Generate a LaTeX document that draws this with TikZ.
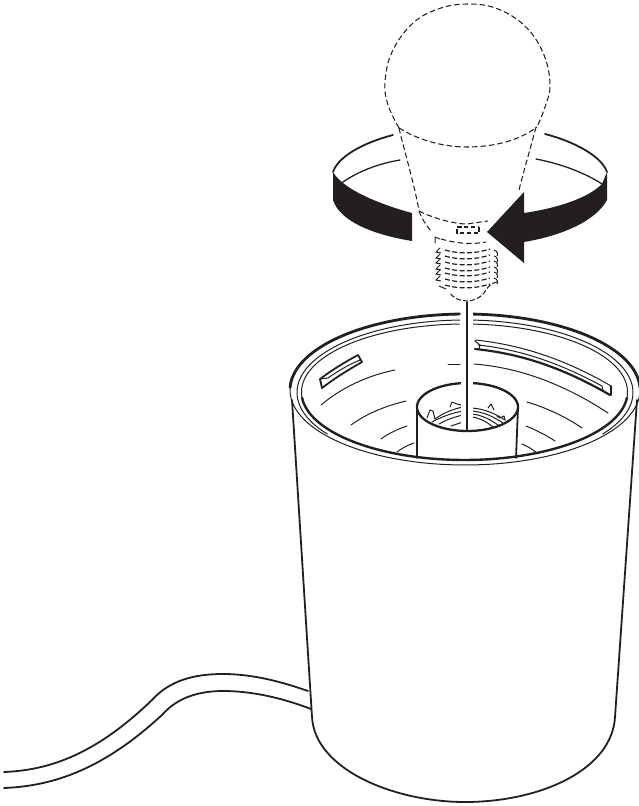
\documentclass[tikz,border=0pt]{standalone}
\definecolor{ink}{HTML}{231F20}
\tikzset{
  thin line/.style={draw=ink,line width=1pt,line cap=round},
  mid line/.style={draw=ink,line width=1.8pt,line cap=round},
  thick line/.style={draw=ink,line width=2.8pt,line cap=round},
  bulb line/.style={draw=ink,line width=1.05pt,dash pattern=on 5.5pt off 3pt},
  thread line/.style={draw=ink,line width=1.2pt,dash pattern=on 5pt off 2.4pt},
  mark line/.style={draw=ink,line width=1pt,line cap=butt},
  crv/.style={smooth,tension=0.6}
}
\begin{document}
\begin{tikzpicture}[x=1pt,y=-1pt]
\useasboundingbox (0,0) rectangle (639,806);
% cord
\draw[mid line] (4,772) .. controls (55,770) and (100,750) .. (152,700) .. controls (170,680) and (195,674) .. (223,674) .. controls (255,674) and (285,683) .. (308,691);
\draw[mid line] (4,788) .. controls (55,786) and (105,768) .. (163,714) .. controls (178,697) and (200,691) .. (223,691) .. controls (258,691) and (290,701) .. (311,709);
% cup body
\draw[mid line] (292,400) -- (312,717) .. controls (315,770) and (395,802) .. (465,802) .. controls (540,802) and (612,770) .. (615,717) -- (637,400);
% rim
\draw[thick line] plot[domain=2:87.5,samples=60] ({465+175*cos(\x)},{390-76*sin(\x)});
\draw[thick line] plot[domain=91.8:178,samples=60] ({465+175*cos(\x)},{390-76*sin(\x)});
\draw[thin line] plot[domain=178:362,samples=80] ({465+175*cos(\x)},{390-75*sin(\x)});
\draw[thin line] plot[domain=-35:87.5,samples=60] ({465+168*cos(\x)},{392.5-72.5*sin(\x)});
\draw[thin line] plot[domain=91.8:215,samples=60] ({465+168*cos(\x)},{392.5-72.5*sin(\x)});
\draw[thin line] plot[domain=-5:87.5,samples=60] ({464.5+163*cos(\x)},{392-68*sin(\x)});
\draw[thin line] plot[domain=91.8:185,samples=60] ({464.5+163*cos(\x)},{392-68*sin(\x)});
\draw[draw=ink,line width=2.4pt,line cap=round] plot[domain=185:355,samples=80] ({464.5+163*cos(\x)},{392-68*sin(\x)});
% left tab
\draw[mid line,line join=round] (322,388) -- (320,379) .. controls (332,370) and (345,362) .. (358,355) -- (362,362);
\draw[mid line] (322,388) .. controls (335,378) and (348,370) .. (362,362);
\draw[thin line] (320,379) -- (328,378) .. controls (338,371) and (348,365) .. (360,360);
% right tab
\draw[thin line] (475,340) .. controls (525,345) and (570,362) .. (611,386);
\draw[thin line] (478,345) .. controls (525,350) and (565,366) .. (602,386);
\draw[draw=ink,line width=2.2pt,line cap=round] (475,349) .. controls (525,354) and (565,370) .. (603,391) -- (610,395);
\draw[thin line] (475,341) -- (480,345) -- (479,349);
\draw[thin line,line join=round] (602,386) -- (603,391);
\draw[mid line,line join=round] (611,386) -- (611,395);
% floor contour lines
\draw[thin line] (321,405) .. controls (340,389) and (365,376) .. (395,370);
\draw[thin line] (351,425) .. controls (366,414) and (385,406) .. (406,401);
\draw[thin line] (381,439) .. controls (389,433) and (398,429) .. (407,426);
\draw[thin line] (397,452) .. controls (402,448) and (408,445) .. (414,443);
\draw[thin line] (448,364) -- (460,364);
\draw[thin line] (474,364) .. controls (525,368) and (570,388) .. (608,413);
\draw[thin line] (527,402) .. controls (547,408) and (566,417) .. (582,428);
\draw[thin line] (526,426) .. controls (536,430) and (546,435) .. (555,441);
\draw[thin line] (522,444) .. controls (527,446) and (532,449) .. (537,453);
% socket
\draw[mid line] (417,408) -- (417,458);
\draw[mid line] (518,408) -- (516,458);
\draw[draw=ink,line width=2.3pt,line cap=round] plot[domain=0:360,samples=100] ({467.5+50.5*cos(\x)},{407-24*sin(\x)});
% inner threads
\draw[thin line] (435,419) .. controls (443,413) and (453,409) .. (463,407);
\draw[thin line] (472,408) .. controls (485,409) and (496,414) .. (505,420);
\draw[thin line] (432,422) .. controls (441,417) and (452,413) .. (463,411);
\draw[thin line] (472,411) .. controls (484,412) and (494,417) .. (503,423);
\draw[thin line] (439,424) .. controls (446,420) and (454,417) .. (463,415);
\draw[thin line] (472,414) .. controls (482,415) and (491,420) .. (498,425);
\draw[thin line] (451,426) -- (463,422);
\draw[thin line] (472,417) .. controls (480,418) and (487,422) .. (493,427);
\draw[thin line,line join=round] (427,418) -- (430,410) -- (433,411) -- (435,419);
\draw[thin line,line join=round] (450,407) -- (452,402) -- (457,404) -- (461,405);
\draw[thin line,line join=round] (488,408) -- (491,404) -- (494,410);
\draw[thin line,line join=round] (497,416) -- (500,418) -- (504,416) -- (505,420);
% halo and stem
\draw[draw=white,line width=12pt,line cap=butt] (467,310) -- (467,428);
\node[inner sep=0pt,minimum size=0pt] (tip) at (467,302) {};
\node[inner sep=0pt,minimum size=0pt] (bot) at (467,430) {};
\draw[draw=ink,line width=1.2pt] (tip) -- (bot);
% rotation band
\fill[ink] (333,172) .. controls (342,188) and (375,203) .. (412,213) -- (412,241) .. controls (375,235) and (340,222) .. (333,200) -- cycle;
\draw[draw=ink,line width=1.8pt,line cap=round] (393,135) .. controls (362,143) and (338,157) .. (333,172);
\draw[draw=ink,line width=1.3pt,line cap=round] (400,160) .. controls (376,164) and (355,173) .. (340,184);
\fill[ink] (607,172) -- (607,200) .. controls (595,222) and (560,236) .. (524,242) -- (524,263) -- (487,232) -- (524,192) -- (524,213) .. controls (558,208) and (588,198) .. (602,184) -- cycle;
\draw[draw=ink,line width=1.8pt,line cap=round] (545,134) .. controls (576,142) and (602,157) .. (607,172);
\draw[draw=ink,line width=1.3pt,line cap=round] (536,159) .. controls (562,164) and (585,173) .. (602,184);
% bulb
\draw[bulb line] plot[smooth,tension=0.65] coordinates {(399,128) (388,105) (385,82) (392,52) (412,24) (438,9) (468,4) (498,9) (526,27) (544,55) (550,85) (545,107) (537,127)};
\draw[bulb line] (399,128) .. controls (420,141) and (445,147) .. (467,147) .. controls (495,147) and (520,140) .. (537,127);
\draw[bulb line] (399,128) .. controls (404,150) and (412,175) .. (419,210);
\draw[bulb line] (536,127) .. controls (530,150) and (524,170) .. (519,190);
\draw[bulb line] (419,211) .. controls (435,219) and (455,224) .. (467,224) -- (488,221);
\draw[bulb line] (419,211) .. controls (422,219) and (426,225) .. (431,231);
\draw[bulb line,dash pattern=on 4.5pt off 2.4pt] (457,227) -- (479,227);
\draw[bulb line,dash pattern=on 4.5pt off 2.4pt] (479,227) -- (479,233) -- (457,233) -- (457,227);
\draw[mark line] (435,243) -- (435,237) -- (440,239);
\draw[bulb line] (441,239) .. controls (455,243) and (470,245) .. (486,242);
% screw threads
\foreach \yy in {249,255,261,267,272,278,284}{
  \draw[thread line] (445,\yy+1) .. controls (458,\yy+5) and (475,\yy+5) .. (490,\yy);
}
\foreach \yy in {250,256,261,267,272,278}{
  \draw[mark line] (440,\yy-2) -- (436,\yy+2) -- (441,\yy+3);
  \draw[mark line] (494,\yy) .. controls (498,\yy+1) and (498,\yy+5) .. (497,\yy+6);
}
\draw[mark line] (446,289) -- (439,286);
\draw[bulb line,dash pattern=on 5pt off 2.2pt] (497,282) .. controls (490,283) and (487,288) .. (484,293) .. controls (480,298) and (473,301) .. (467,301) .. controls (460,301) and (453,298) .. (450,293);
\end{tikzpicture}
\end{document}
